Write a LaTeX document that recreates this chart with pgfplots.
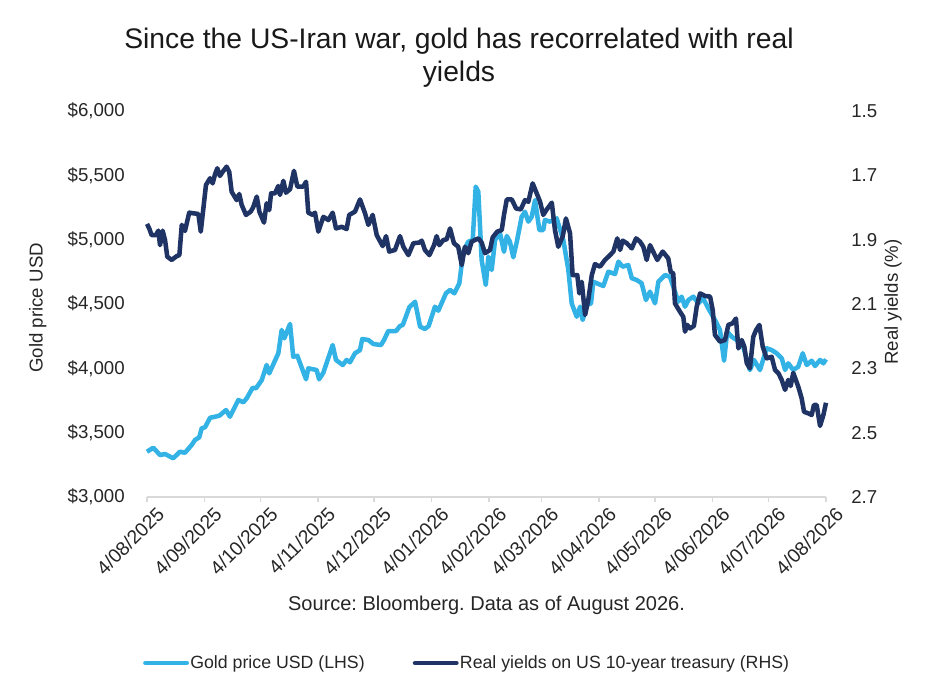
\documentclass[border=0pt]{standalone}
\usepackage{pgfplots}
\usepackage{pgfplotstable}
\pgfplotsset{compat=1.18}
\usepackage{fontspec}
\setmainfont{Liberation Sans}
\frenchspacing
\definecolor{goldc}{HTML}{33B2E5}
\definecolor{navyc}{HTML}{1F3464}

\pgfplotstableread{
d g
0 3352
3.4 3383
7 3326
9.7 3334
14.1 3301
17.7 3352
20.4 3344
24 3404
25.8 3443
28.1 3464
29.4 3534
31.2 3542
33.9 3616
36.6 3624
38.9 3632
42.5 3676
44.6 3624
49.1 3754
51.8 3736
53.6 3767
56.8 3849
58.6 3845
61.7 3909
64.3 4026
65.7 3961
70.6 4117
72.4 4298
73.8 4233
76.9 4345
78.6 4090
80.8 4098
85.5 3915
86.7 4000
91.2 3987
92.5 3915
94.8 3966
99.8 4181
101.6 4065
105.2 4026
107.3 4065
109.1 4047
111.8 4117
114.5 4142
115.7 4228
119 4220
121.7 4189
125.8 4181
127.4 4220
129.7 4290
133.9 4290
136 4329
137.5 4337
141 4474
144.1 4518
146.8 4324
149.4 4306
151.4 4329
154.8 4479
156.6 4448
160.7 4583
162.9 4609
165.2 4583
167.9 4661
170 4906
172.7 4984
175.1 4997
176.7 5412
178.1 5373
179.9 4842
182.1 4648
183.5 4868
185.3 4764
187.1 4997
189.8 5049
191.9 4906
193.4 5028
195.1 4984
196.9 4863
198.8 4984
201.4 5178
203.2 5217
205 5140
206.8 5178
208.6 5308
210.9 5075
213 5075
213.9 5153
216.6 5140
220.2 5166
223.8 4997
226.5 4764
228.3 4505
231 4401
232.8 4479
234.2 4376
236.4 4492
238.7 4505
239.9 4673
241.8 4661
245.3 4640
248 4751
251.6 4733
253.4 4829
255.7 4790
258.7 4803
260.6 4700
263.2 4687
265.9 4661
268.2 4531
270.4 4596
273.1 4505
274.9 4673
278.5 4725
281.1 4712
282.9 4634
285.6 4518
287.4 4557
289.2 4479
291 4531
293.7 4557
296.4 4505
299 4544
301.7 4467
305.3 4376
308 4298
310.2 4059
311.9 4285
314.3 4246
317 4220
320.5 4168
324.1 3987
326.3 4065
329.5 3987
333.1 4156
335.8 4142
338.5 4117
341.2 4078
343 3987
344.7 4039
347.4 3987
350.1 4013
352.5 4117
354.6 4026
357.3 4059
359.1 4018
361.8 4065
363.6 4039
365 4070
}\goldtab

\pgfplotstableread{
d y
0 1.851
1.2 1.865
2.5 1.886
4.8 1.886
6.1 1.872
7 1.917
8.4 1.872
9.7 1.901
10.9 1.953
13.3 1.963
16 1.951
17.4 1.948
18.7 1.854
20.4 1.873
22.7 1.816
24.9 1.818
27.6 1.820
28.9 1.875
30.3 1.803
31.7 1.730
33.9 1.709
35.3 1.725
36.6 1.696
37.8 1.678
39.2 1.702
40.7 1.689
42.8 1.673
44.2 1.689
45.5 1.751
48.2 1.777
49.6 1.758
50.9 1.792
53.2 1.823
55.7 1.813
57.1 1.799
59 1.766
60.4 1.813
62.9 1.847
64.3 1.787
65.7 1.808
66.7 1.756
68.8 1.756
70.6 1.733
71.5 1.761
73.3 1.717
74.7 1.754
76.9 1.743
79 1.686
80.8 1.735
84 1.735
85.5 1.720
86.7 1.816
89.1 1.823
90.3 1.816
92.1 1.875
94.8 1.829
97.5 1.839
99.8 1.816
101.6 1.865
104.7 1.860
107.3 1.867
108.7 1.823
111.8 1.813
114.5 1.775
117.2 1.818
119 1.854
121.3 1.823
123.5 1.886
126.7 1.920
128.5 1.889
130.2 1.937
133.3 1.932
136 1.889
137.8 1.922
140.5 1.948
143.2 1.911
146.4 1.909
147.7 1.903
149.4 1.932
151.8 1.948
154.3 1.917
155.7 1.889
157.1 1.917
159.3 1.901
161.1 1.899
162.9 1.865
165 1.911
167.3 1.922
169.2 1.979
170.9 1.922
172.7 1.942
174.5 1.906
178.1 1.896
179.9 1.909
181.7 1.942
184.4 1.932
185.8 1.893
188.3 1.875
190.7 1.870
191.9 1.823
193.4 1.775
196.1 1.775
198.4 1.803
200.9 1.806
203.2 1.777
205 1.782
207.3 1.725
209.5 1.756
211.3 1.782
213 1.823
214.9 1.806
217.6 1.785
219.3 1.870
221.1 1.922
223.5 1.889
225.2 1.834
227.4 1.880
228.8 2.010
231.3 2.010
232.4 2.067
233.7 2.031
235.5 2.134
237.2 2.088
239.1 2.010
240.8 1.976
243.5 1.984
246.2 1.963
248.9 1.948
250.7 1.937
252.8 1.896
254.3 1.932
255.7 1.903
257.9 1.911
260.6 1.927
262.9 1.896
265 1.906
266.8 1.922
268.6 1.963
270.4 1.917
272.5 1.942
274.3 1.963
277.2 1.937
280.2 1.958
281.5 2.000
282.9 2.005
283.8 2.098
286.5 2.124
288.3 2.140
289.2 2.186
290.4 2.165
291.9 2.176
294 2.168
295.5 2.108
297.3 2.067
300 2.075
302.7 2.077
304.1 2.119
305.3 2.196
308 2.217
310.7 2.212
312.5 2.165
314.8 2.160
316.6 2.145
317.9 2.238
319.7 2.212
321.1 2.233
322.4 2.284
324.1 2.300
325.9 2.202
327.4 2.181
329.2 2.165
331 2.233
333.1 2.269
335.8 2.264
337.6 2.305
339.4 2.315
341.2 2.336
343 2.367
344.7 2.336
346 2.355
347.4 2.314
350.1 2.357
351.9 2.393
353.2 2.435
355.5 2.440
357.3 2.445
358.5 2.414
360 2.414
361.8 2.479
363.6 2.445
365 2.407
}\yldtab

\begin{document}
\begin{tikzpicture}
\pgfplotsset{
  common/.style={
    at={(0,0)}, anchor=south west,
    scale only axis, width=509.25pt, height=289.5pt,
    xmin=0, xmax=365, clip=false,
    tick align=outside, major tick length=4pt,
    /pgf/number format/assume math mode=true,
    ytick style={draw=none},
    y axis line style={draw=none},
  }
}
\begin{axis}[common,
  ymin=3000, ymax=6000,
  axis x line*=bottom, axis y line*=left,
  x axis line style={-, draw=black!15, line width=1.5pt},
  xtick={0,31,61,92,122,153,184,212,243,273,304,334,365},
  xticklabels={4/08/2025,4/09/2025,4/10/2025,4/11/2025,4/12/2025,4/01/2026,4/02/2026,4/03/2026,4/04/2026,4/05/2026,4/06/2026,4/07/2026,4/08/2026},
  xtick style={draw=black!15, line width=1.2pt},
  xticklabel style={rotate=45, anchor=north east, font=\fontsize{14.5}{16}\selectfont, text=black!85, inner sep=0pt, xshift=3pt, yshift=-6pt},
  ytick={3000,3500,4000,4500,5000,5500,6000},
  yticklabels={{\$3,000},{\$3,500},{\$4,000},{\$4,500},{\$5,000},{\$5,500},{\$6,000}},
  yticklabel style={font=\fontsize{14}{16}\selectfont, text=black!85, inner sep=0pt, xshift=-12.5pt},
]
\addplot[goldc, line width=3.4pt, line join=round] table[x=d, y=g] {\goldtab};
\node[rotate=90, font=\fontsize{14}{16}\selectfont, text=black!85] at (rel axis cs:-0.161,0.49) {Gold price USD};
\node[font=\fontsize{15}{18}\selectfont, text=black!85] at (rel axis cs:0.5,-0.28) {Source: Bloomberg. Data as of August 2026.};
\node[anchor=north, align=center, inner sep=0pt, font=\fontsize{21.2}{24.75}\selectfont, text=black!90] at (rel axis cs:0.4595,1.215) {Since the US-Iran war, gold has recorrelated with real\\yields};
\end{axis}
\begin{axis}[common,
  ymin=1.5, ymax=2.7, y dir=reverse,
  axis x line=none, axis y line*=right,
  ytick={1.5,1.7,1.9,2.1,2.3,2.5,2.7},
  yticklabels={1.5,1.7,1.9,2.1,2.3,2.5,2.7},
  yticklabel style={font=\fontsize{14}{16}\selectfont, text=black!85, inner sep=0pt, anchor=west, xshift=14.75pt},
  legend style={at={(0.471,-0.43)}, anchor=center, draw=none, fill=none,
    font=\fontsize{13.3}{15}\selectfont, text=black!85, legend columns=2,
    /tikz/every even column/.append style={column sep=35pt},
    inner sep=0pt, nodes={inner sep=1pt}},
  legend cell align=left,
  legend image code/.code={\draw[#1, line width=3.4pt, line cap=round] (0pt,0pt) -- (31pt,0pt);},
]
\addlegendimage{goldc}
\addlegendentry{Gold price USD (LHS)}
\addplot[navyc, line width=3.4pt, line join=round] table[x=d, y=y] {\yldtab};
\addlegendentry{Real yields on US 10-year treasury (RHS)}
\node[rotate=90, font=\fontsize{14}{16}\selectfont, text=black!85] at (rel axis cs:1.0987,0.505) {Real yields (\%)};
\end{axis}
\pgfresetboundingbox
\path (-110.25pt,-150pt) rectangle (585.75pt,372.75pt);
\end{tikzpicture}
\end{document}
